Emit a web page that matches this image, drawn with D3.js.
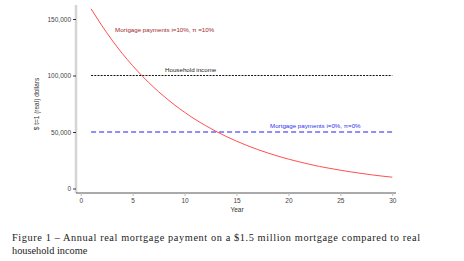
<!DOCTYPE html>
<html>
<head>
<meta charset="utf-8">
<script src="https://cdn.jsdelivr.net/npm/d3@7"></script>
<style>
  body { margin: 0; background: #fff; }
  svg text { font-family: "Liberation Sans", Arial, sans-serif; }
  .caption { font-family: "Liberation Serif", "DejaVu Serif", serif; }
</style>
</head>
<body>
<div id="chart"></div>
<script>
// Years of the mortgage
const years = d3.range(1, 31);

// Real payment, i=10%, pi=10%
const realPayment = [159000, 144700, 131500, 119500, 108700, 98800, 89800, 81700, 74200, 67500,
  61300, 55800, 50700, 46100, 41900, 38100, 34600, 31500, 28600, 26000,
  23700, 21500, 19500, 17800, 16200, 14700, 13400, 12100, 11000, 10000];

const householdIncome = 100000;
const flatPayment = 50000;

const yTicks = [0, 50000, 100000, 150000];
const xTicks = [0, 5, 10, 15, 20, 25, 30];

const width = 464, height = 261;

const x = d3.scaleLinear().domain([0, 30]).range([80.7, 392.3]);
const y = d3.scaleLinear().domain([0, 150000]).range([188.5, 19]);

const svg = d3.select("#chart").append("svg")
    .attr("width", width)
    .attr("height", height);

// y axis (light gray thick line)
svg.append("line")
    .attr("x1", 76).attr("x2", 76)
    .attr("y1", 5).attr("y2", 193)
    .attr("stroke", "#d4d4d4").attr("stroke-width", 2.5);

const yAxis = svg.append("g")
    .attr("transform", "translate(76,0)")
    .call(d3.axisLeft(y).tickValues(yTicks).tickSize(3).tickPadding(2)
        .tickFormat(d3.format(",")));
yAxis.select(".domain").remove();
yAxis.selectAll(".tick line").attr("stroke", "#333");
yAxis.selectAll(".tick text").attr("fill", "#444").style("font-size", "6.5px");

// x axis
const xAxis = svg.append("g")
    .attr("transform", "translate(0,193)")
    .call(d3.axisBottom(x).tickValues(xTicks).tickSize(3).tickPadding(2));
xAxis.select(".domain").attr("d", "M76,0H396").attr("stroke", "#555");
xAxis.selectAll(".tick line").attr("stroke", "#bbb");
xAxis.selectAll(".tick text").attr("fill", "#444").style("font-size", "6.5px");

// axis titles
svg.append("text")
    .attr("x", 237).attr("y", 212)
    .attr("text-anchor", "middle")
    .attr("fill", "#333")
    .style("font-size", "6.5px")
    .text("Year");

svg.append("text")
    .attr("transform", "translate(39,104) rotate(-90)")
    .attr("text-anchor", "middle")
    .attr("fill", "#333")
    .style("font-size", "6.5px")
    .text("$ t=1 (real) dollars");

// reference lines
svg.append("line")
    .attr("x1", x(1)).attr("x2", x(30))
    .attr("y1", y(householdIncome)).attr("y2", y(householdIncome))
    .attr("stroke", "#111").attr("stroke-width", 1)
    .attr("stroke-dasharray", "2,1.2");

svg.append("line")
    .attr("x1", x(1)).attr("x2", x(30))
    .attr("y1", y(flatPayment)).attr("y2", y(flatPayment))
    .attr("stroke", "#2020f0").attr("stroke-width", 1.2)
    .attr("stroke-dasharray", "5,3");

// red curve
const line = d3.line()
    .x((d, i) => x(years[i]))
    .y(d => y(d))
    .curve(d3.curveMonotoneX);

svg.append("path")
    .datum(realPayment)
    .attr("d", line)
    .attr("fill", "none")
    .attr("stroke", "#ff3b3b")
    .attr("stroke-width", 0.9);

// labels
svg.append("text")
    .attr("x", 115).attr("y", 32)
    .attr("fill", "#a02a2a")
    .style("font-size", "6.2px")
    .text("Mortgage payments i=10%,  \u03c0 =10%");

svg.append("text")
    .attr("x", 165).attr("y", 72)
    .attr("fill", "#222")
    .style("font-size", "6.2px")
    .text("Household income");

svg.append("text")
    .attr("x", 270).attr("y", 128)
    .attr("fill", "#3030ee")
    .style("font-size", "6.2px")
    .text("Mortgage payments i=0%, \u03c0=0%");

// caption
const caption = svg.append("text")
    .attr("class", "caption")
    .attr("fill", "#222")
    .style("font-size", "10.3px");
caption.append("tspan").attr("x", 12).attr("y", 241)
    .attr("textLength", 408).attr("lengthAdjust", "spacing")
    .text("Figure 1 \u2013 Annual real mortgage payment on a $1.5 million mortgage compared to real");
caption.append("tspan").attr("x", 12).attr("y", 254)
    .text("household income");
</script>
</body>
</html>
